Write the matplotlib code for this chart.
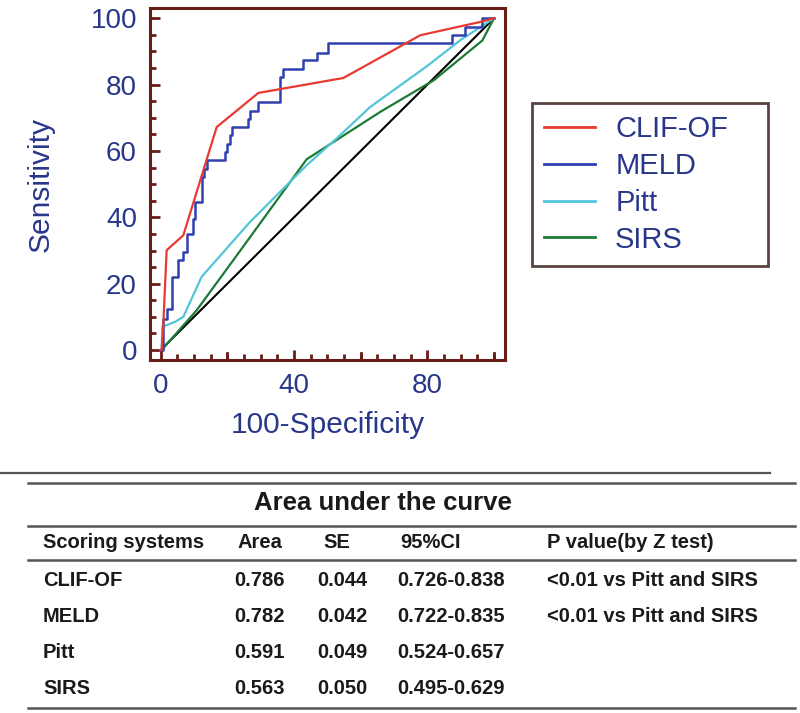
import matplotlib
matplotlib.use("Agg")
import matplotlib.pyplot as plt
from matplotlib.lines import Line2D
from matplotlib.ticker import MultipleLocator, FixedLocator

plt.rcParams['font.family'] = ['Liberation Sans', 'DejaVu Sans']

# --- ROC data (100-specificity, sensitivity) ---
clif_x = [0, 0.3, 0.8, 1.8, 6.8, 16.8, 29.3, 54.8, 77.9, 95.9, 100]
clif_y = [0, 0, 8, 30.1, 34.6, 67.2, 77.5, 82.0, 94.9, 98.9, 100]

# MELD is a step curve: at each x the curve rises to y
meld_x = [0, 0.8, 1.8, 3.3, 5.3, 6.8, 7.8, 9.8, 10.3, 12.3, 13.0, 13.8, 19.3, 19.8,
          20.8, 21.3, 26.3, 26.8, 29.3, 35.8, 36.8, 42.8, 46.8, 50.3, 87.4, 91.4, 96.4, 100]
meld_y = [0, 9.5, 12.5, 22.1, 27.1, 29.6, 35.1, 39.6, 44.7, 52.2, 54.7, 57.2, 59.7, 62.2,
          64.7, 67.2, 69.7, 72.2, 74.7, 82.3, 84.8, 87.3, 89.4, 92.4, 94.9, 97.4, 100, 100]

pitt_x = [0, 0.3, 0.5, 4.3, 6.8, 12.3, 26.8, 43.8, 52.8, 62.9, 79.8, 89.9, 100]
pitt_y = [0, 0, 7, 8.5, 10, 22.1, 38.6, 55.7, 63.8, 73.3, 85.5, 93.4, 100]

sirs_x = [0, 0.3, 10.8, 21.8, 43.8, 65.9, 81.9, 96.5, 100]
sirs_y = [0, 0, 12.0, 27.1, 57.5, 71.8, 81.3, 93.3, 100]

ref_x = [0, 100]
ref_y = [0, 100]

series_names = ['CLIF-OF', 'MELD', 'Pitt', 'SIRS']
series_colors = ['#e83a30', '#2f40b0', '#52c6d8', '#1d7a36']

# --- AUC table ---
table_title = 'Area under the curve'
table_header = ['Scoring systems', 'Area', 'SE', '95%CI', 'P value(by Z test)']
systems = ['CLIF-OF', 'MELD', 'Pitt', 'SIRS']
auc_area = ['0.786', '0.782', '0.591', '0.563']
auc_se = ['0.044', '0.042', '0.049', '0.050']
auc_ci = ['0.726-0.838', '0.722-0.835', '0.524-0.657', '0.495-0.629']
p_values = ['<0.01 vs Pitt and SIRS', '<0.01 vs Pitt and SIRS', '', '']

W, H = 800, 713
fig = plt.figure(figsize=(W / 100, H / 100), dpi=100)
fig.patch.set_facecolor('white')

frame_col = '#6a1c16'
label_col = '#28378a'

ax = fig.add_axes([150 / W, 1 - 360 / H, 355 / W, 352 / H])
ax.plot(ref_x, ref_y, color='black', lw=1.5)
ax.plot(sirs_x, sirs_y, color=series_colors[3], lw=1.6, label=series_names[3])
ax.plot(pitt_x, pitt_y, color=series_colors[2], lw=1.6, label=series_names[2])
ax.step(meld_x, meld_y, where='post', color=series_colors[1], lw=1.8, label=series_names[1])
ax.plot(clif_x, clif_y, color=series_colors[0], lw=1.6, label=series_names[0])

ax.set_xlim(-3.2, 103.3)
ax.set_ylim(-3.0, 103.1)

ax.xaxis.set_major_locator(FixedLocator([0, 40, 80]))
ax.xaxis.set_minor_locator(MultipleLocator(5))
ax.yaxis.set_major_locator(MultipleLocator(20))
ax.yaxis.set_minor_locator(MultipleLocator(5))
ax.tick_params(which='both', direction='in', color=frame_col, width=2,
               top=False, right=False)
ax.tick_params(which='major', length=7, pad=9.4, labelsize=20, labelcolor=label_col)
ax.tick_params(which='minor', length=4)
# longer unlabeled ticks at 20, 60 and 100 on the x axis
for v in [20, 60, 100]:
    ax.plot([v, v], [-3.0, -3.0 + 2.1], color=frame_col, lw=2, clip_on=False)

for s in ax.spines.values():
    s.set_color(frame_col)
    s.set_linewidth(2.2)

ax.set_xlabel('100-Specificity', fontsize=21.5, color=label_col, labelpad=8.6)
ax.set_ylabel('Sensitivity', fontsize=21.5, color=label_col, labelpad=26)

handles, labels = ax.get_legend_handles_labels()
order = [labels.index(n) for n in series_names]
leg = ax.legend([handles[i] for i in order], [labels[i] for i in order],
                loc='upper left', bbox_to_anchor=(532 / W, 1 - 263 / H, 236 / W, 160 / H),
                bbox_transform=fig.transFigure, mode='expand', borderaxespad=0,
                fontsize=21, frameon=True, fancybox=False, handlelength=1.75,
                handletextpad=0.68, borderpad=0.42, labelspacing=0.3)
leg.get_frame().set_edgecolor('#2e1412')
leg.get_frame().set_linewidth(2)
for t in leg.get_texts():
    t.set_color(label_col)
for h in leg.legend_handles:
    h.set_linewidth(2)

# --- table drawn in figure pixels ---
def fy(y):
    return 1 - y / H

line_col = '#555555'
fig.add_artist(Line2D([0, 770 / W], [fy(473), fy(473)], color=line_col, lw=1.6))
for y in [483, 526, 560, 708]:
    fig.add_artist(Line2D([28 / W, 795 / W], [fy(y), fy(y)], color=line_col, lw=1.8))

txt_col = '#1a1a1a'
fig.text(383 / W, fy(503), table_title, ha='center', va='center', fontsize=18.5,
         fontweight='bold', color=txt_col)

head_x = [43, 238, 323, 400, 547]
for x, s in zip(head_x, table_header):
    fig.text(x / W, fy(542), s, ha='left', va='center', fontsize=14.5,
             fontweight='bold', color=txt_col)

row_y = [580, 616, 652, 688]
col_x = [43, 234, 317, 397, 547]
for i, ry in enumerate(row_y):
    cells = [systems[i], auc_area[i], auc_se[i], auc_ci[i], p_values[i]]
    for x, s in zip(col_x, cells):
        fig.text(x / W, fy(ry), s, ha='left', va='center', fontsize=14.5,
                 fontweight='bold', color=txt_col)

fig.savefig('out.png', dpi=100, facecolor='white')
